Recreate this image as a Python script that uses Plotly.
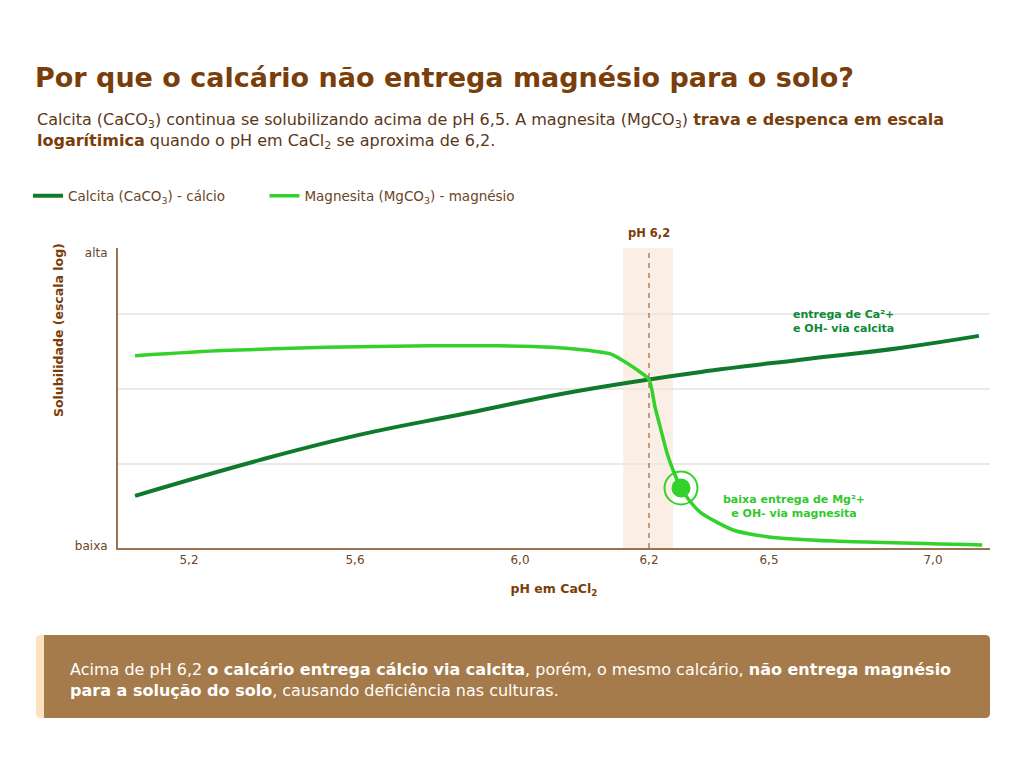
import numpy as np
import plotly.graph_objects as go

# ---------------- data ----------------
TICK_PH = [5.2, 5.6, 6.0, 6.2, 6.5, 7.0]
TICK_LABELS = ["5,2", "5,6", "6,0", "6,2", "6,5", "7,0"]

CALCITA_PH = [5.07, 5.37, 5.61, 5.87, 6.07, 6.20, 6.33, 6.59, 6.90, 7.14]
CALCITA_SOL = [14.4, 26.3, 34.7, 41.9, 48.6, 53.2, 55.7, 59.7, 63.7, 67.7]

MAGNESITA_PH = [5.07, 5.28, 5.53, 5.78, 5.95, 6.05, 6.10, 6.14, 6.158, 6.18, 6.20,
                6.215, 6.23, 6.245, 6.26, 6.28, 6.30, 6.33, 6.41, 6.50, 6.70, 7.15]
MAGNESITA_SOL = [61.1, 62.8, 63.9, 64.4, 64.4, 63.9, 63.0, 61.7, 59.7, 56.6, 53.2,
                 44.0, 36.3, 28.7, 23.0, 17.0, 13.0, 8.7, 3.0, 0.7, -0.7, -2.0]

MARKER_PH = [6.28]
MARKER_SOL = [17.0]

BAND_PH = [6.16, 6.26]
CRITICAL_PH = 6.2
Y_LABELS = ["baixa", "alta"]

# ---------------- styles ----------------
DARK_GREEN = "#0f7a2c"
LIGHT_GREEN = "#33d12b"
BROWN = "#7a3e0a"
TEXT_BROWN = "#6b4526"
AXIS_BROWN = "#9b7250"
FONT = "'DejaVu Sans', sans-serif"
OFF = 8  # page body margin compensation
PAD = "&nbsp;" * 8  # spacing between legend entries

# non-uniform x scale of the original chart (axis units for each tick)
TICK_POS = [71, 237, 402, 531, 651, 815]
X_RANGE = [0, 872]


def to_pos(ph):
    ph = np.atleast_1d(np.asarray(ph, dtype=float))
    out = np.interp(ph, TICK_PH, TICK_POS)
    lo = ph < TICK_PH[0]
    hi = ph > TICK_PH[-1]
    s0 = (TICK_POS[1] - TICK_POS[0]) / (TICK_PH[1] - TICK_PH[0])
    s1 = (TICK_POS[-1] - TICK_POS[-2]) / (TICK_PH[-1] - TICK_PH[-2])
    out[lo] = TICK_POS[0] + (ph[lo] - TICK_PH[0]) * s0
    out[hi] = TICK_POS[-1] + (ph[hi] - TICK_PH[-1]) * s1
    return out


fig = go.Figure()

fig.add_trace(go.Scatter(
    x=to_pos(CALCITA_PH), y=CALCITA_SOL, mode="lines",
    name="Calcita (CaCO<sub>3</sub>) - cálcio" + PAD,
    line=dict(color=DARK_GREEN, width=4, shape="spline", smoothing=1.2),
    hoverinfo="skip",
))
fig.add_trace(go.Scatter(
    x=to_pos(MAGNESITA_PH), y=MAGNESITA_SOL, mode="lines",
    name="Magnesita (MgCO<sub>3</sub>) - magnésio",
    line=dict(color=LIGHT_GREEN, width=3.5, shape="spline", smoothing=0.6),
    hoverinfo="skip",
))
fig.add_trace(go.Scatter(
    x=to_pos(MARKER_PH), y=MARKER_SOL, mode="markers", showlegend=False,
    marker=dict(size=33, color="rgba(0,0,0,0)", line=dict(color=LIGHT_GREEN, width=2)),
    hoverinfo="skip",
))
fig.add_trace(go.Scatter(
    x=to_pos(MARKER_PH), y=MARKER_SOL, mode="markers", showlegend=False,
    marker=dict(size=19, color=LIGHT_GREEN, line=dict(width=0)),
    hoverinfo="skip",
))

b0, b1 = to_pos(BAND_PH)
cx = float(to_pos(CRITICAL_PH)[0])

shapes = [
    dict(type="rect", xref="x", yref="paper", x0=b0, x1=b1, y0=0, y1=1,
         fillcolor="#fbefe5", line=dict(width=0), layer="below"),
    dict(type="line", xref="x", yref="paper", x0=cx, x1=cx, y0=0, y1=1,
         line=dict(color="#a0714c", width=1.3, dash="5px,5px"), layer="above"),
]


def rounded_path(x0, x1, y0, y1, rx, ry, left=True, right=True):
    p = []
    p.append(f"M {x0+rx},{y1}" if left else f"M {x0},{y1}")
    if right:
        p.append(f"L {x1-rx},{y1} Q {x1},{y1} {x1},{y1-ry} L {x1},{y0+ry} Q {x1},{y0} {x1-rx},{y0}")
    else:
        p.append(f"L {x1},{y1} L {x1},{y0}")
    if left:
        p.append(f"L {x0+rx},{y0} Q {x0},{y0} {x0},{y0+ry} L {x0},{y1-ry} Q {x0},{y1} {x0+rx},{y1} Z")
    else:
        p.append(f"L {x0},{y0} Z")
    return " ".join(p)


PW, PH_ = 872.0, 300.0
def px_x(px):
    return (px - 118) / PW
def px_y(py):
    return (548 - py) / PH_

rx, ry = 5 / PW, 5 / PH_
shapes.append(dict(type="path", xref="paper", yref="paper",
                   path=rounded_path(px_x(36), px_x(990), px_y(718), px_y(635), rx, ry),
                   fillcolor="#fde2c0", line=dict(width=0)))
shapes.append(dict(type="path", xref="paper", yref="paper",
                   path=rounded_path(px_x(44), px_x(990), px_y(718), px_y(635), rx, ry, left=False),
                   fillcolor="#a67b4b", line=dict(width=0)))

annotations = [
    dict(xref="paper", yref="paper", x=px_x(35), y=px_y(131), xanchor="left", yanchor="middle",
         align="left", showarrow=False,
         text=("Calcita (CaCO<sub>3</sub>) continua se solubilizando acima de pH 6,5. "
               "A magnesita (MgCO<sub>3</sub>) <b style='color:%s'>trava e despenca em escala</b><br>"
               "<b style='color:%s'>logarítimica</b> quando o pH em CaCl<sub>2</sub> se aproxima de 6,2."
               % (BROWN, BROWN)),
         font=dict(family=FONT, size=16, color="#5a3818")),
    dict(xref="paper", yref="paper", x=px_x(58), y=px_y(330), xanchor="center", yanchor="middle",
         textangle=-90, showarrow=False, text="<b>Solubilidade (escala log)</b>",
         font=dict(family=FONT, size=12.5, color=BROWN)),
    dict(xref="x", yref="paper", x=cx, y=px_y(233), xanchor="center", yanchor="middle",
         showarrow=False, text="<b>pH 6,2</b>", font=dict(family=FONT, size=11.5, color=BROWN)),
    dict(xref="x", yref="y", x=float(to_pos(6.726)[0]), y=72.5, xanchor="center", yanchor="middle",
         showarrow=False, text="<b>entrega de Ca²+<br>e OH- via calcita</b>",
         font=dict(family=FONT, size=11, color="#0d8a34")),
    dict(xref="x", yref="y", x=float(to_pos(6.576)[0]), y=10.8, xanchor="center", yanchor="middle",
         showarrow=False, text="<b>baixa entrega de Mg²+<br>e OH- via magnesita</b>",
         font=dict(family=FONT, size=11, color="#2fc92a")),
    dict(xref="paper", yref="paper", x=px_x(68), y=px_y(680), xanchor="left", yanchor="middle",
         align="left", showarrow=False,
         text=("Acima de pH 6,2 <b>o calcário entrega cálcio via calcita</b>, porém, o mesmo calcário, "
               "<b>não entrega magnésio</b><br><b>para a solução do solo</b>, causando deficiência nas culturas."),
         font=dict(family=FONT, size=16, color="white")),
]

fig.update_layout(
    width=1024, height=762,
    margin=dict(l=118 - OFF, r=34 + OFF, t=248 - OFF, b=214 + OFF, autoexpand=False),
    paper_bgcolor="white", plot_bgcolor="white",
    font=dict(family=FONT, color=TEXT_BROWN),
    title=dict(text="<b>Por que o calcário não entrega magnésio para o solo?</b>",
               x=(35 - OFF) / 1024, xanchor="left", y=1 - (78 - OFF) / 762, yanchor="middle",
               font=dict(family=FONT, size=27, color=BROWN)),
    legend=dict(orientation="h", x=px_x(28), y=px_y(196), xanchor="left", yanchor="middle",
                font=dict(family=FONT, size=13.5, color=TEXT_BROWN), bgcolor="rgba(0,0,0,0)",
                itemwidth=30, tracegroupgap=0),
    shapes=shapes,
    annotations=annotations,
    xaxis=dict(range=X_RANGE, tickvals=TICK_POS, ticktext=TICK_LABELS, showgrid=False,
               zeroline=False, showline=True, linecolor=AXIS_BROWN, linewidth=2,
               ticks="", tickfont=dict(family=FONT, size=12, color=TEXT_BROWN),
               title=dict(text="<b>pH em CaCl<sub>2</sub></b>", standoff=18,
                          font=dict(family=FONT, size=12.5, color=BROWN)),
               fixedrange=True),
    yaxis=dict(range=[-3, 97], tickvals=[-2.3, 95.5], ticktext=Y_LABELS, showgrid=False,
               zeroline=False, showline=True, linecolor=AXIS_BROWN, linewidth=2,
               ticks="", ticklabelstandoff=6,
               tickfont=dict(family=FONT, size=12, color=TEXT_BROWN),
               minor=dict(tickvals=[25, 50, 75], showgrid=True, gridcolor="#ebe8e5", gridwidth=1.5,
                          ticks=""),
               fixedrange=True),
)

fig.write_html("out.html")
